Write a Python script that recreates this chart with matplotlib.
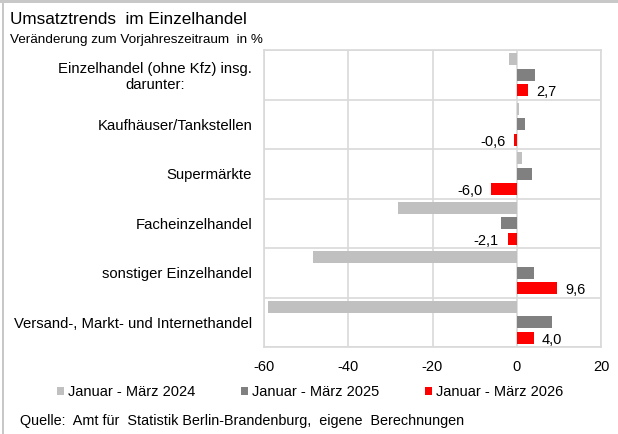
import matplotlib
matplotlib.use("Agg")
import matplotlib.pyplot as plt
import matplotlib.transforms as mtrans
import numpy as np
from matplotlib.patches import Rectangle

plt.rcParams['font.family'] = ['Liberation Sans', 'DejaVu Sans']

categories = [
    "Einzelhandel (ohne Kfz) insg.\ndarunter:",
    "Kaufhäuser/Tankstellen",
    "Supermärkte",
    "Facheinzelhandel",
    "sonstiger Einzelhandel",
    "Versand-, Markt- und Internethandel",
]
series_names = ["Januar - März 2024", "Januar - März 2025", "Januar - März 2026"]
v2024 = [-1.8, 0.6, 1.2, -28.3, -48.3, -59.1]
v2025 = [4.4, 2.0, 3.6, -3.8, 4.1, 8.4]
v2026 = [2.7, -0.6, -6.0, -2.1, 9.6, 4.0]
labels2026 = ["2,7", "-0,6", "-6,0", "-2,1", "9,6", "4,0"]
xticks = [-60, -40, -20, 0, 20]
colors = ["#C0C0C0", "#808080", "#FF0000"]

W, H = 618, 434
fig = plt.figure(figsize=(W / 100, H / 100), dpi=100)
ax = fig.add_axes([264 / W, 1 - 347 / H, (601 - 264) / W, (347 - 50) / H])

n = len(categories)
y = np.arange(n)
pitch = 0.31
bh = 0.245
for i, (vals, c) in enumerate(zip([v2024, v2025, v2026], colors)):
    ax.barh(y + (i - 1) * pitch, vals, height=bh, color=c, label=series_names[i], zorder=3)

for yi, v, lab in zip(y, v2026, labels2026):
    if v >= 0:
        ax.annotate(lab, (v, yi + pitch), xytext=(6, -1.5), textcoords="offset points",
                    ha="left", va="center", fontsize=10.5, color="#000000", zorder=4)
    else:
        ax.annotate(lab, (v, yi + pitch), xytext=(-6.5, -1.5), textcoords="offset points",
                    ha="right", va="center", fontsize=10.5, color="#000000", zorder=4)

ax.set_xlim(-60, 20)
ax.set_ylim(n - 0.5, -0.5)
ax.set_xticks(xticks)
ax.set_xticklabels([str(t) for t in xticks], fontsize=10.5)
offset = mtrans.ScaledTranslation(3 / 100, 0, fig.dpi_scale_trans)
for lbl in ax.get_xticklabels():
    lbl.set_transform(lbl.get_transform() + offset)
ax.set_yticks(y)
ax.set_yticklabels(categories, fontsize=10.7, ha="right", multialignment="center")
ax.tick_params(axis="y", length=0, pad=8.5)
ax.tick_params(axis="x", length=0, pad=9.5)
ax.set_yticks(np.arange(n + 1) - 0.5, minor=True)
ax.tick_params(axis="y", which="minor", length=0)
ax.grid(axis="x", which="major", color="#D9D9D9", lw=1.2, zorder=0)
ax.grid(axis="y", which="minor", color="#D9D9D9", lw=1.2, zorder=0)
ax.grid(axis="y", which="major", visible=False)
for s in ax.spines.values():
    s.set_color("#D9D9D9")
    s.set_linewidth(1.2)

handles, labs = ax.get_legend_handles_labels()
leg = fig.legend(handles, labs, loc="center left", bbox_to_anchor=(57 / W, 1 - 392.5 / H), ncol=3,
                 frameon=False, fontsize=10.5, handlelength=0.48, handleheight=0.48,
                 handletextpad=0.27, columnspacing=3.15, borderpad=0, borderaxespad=0)

fig.text(10 / W, 1 - 19.5 / H, "Umsatztrends  im Einzelhandel", fontsize=12.3, va="center", ha="left")
fig.text(10 / W, 1 - 40 / H, "Veränderung zum Vorjahreszeitraum  in %", fontsize=9.7, va="center", ha="left")
fig.text(20 / W, 1 - 421 / H, "Quelle:  Amt für  Statistik Berlin-Brandenburg,  eigene  Berechnungen",
         fontsize=10.4, va="center", ha="left")

fig.patches.append(Rectangle((0, 1 - 3 / H), 1, 3 / H, transform=fig.transFigure,
                             color="#C8C8C8", lw=0, zorder=10))
fig.patches.append(Rectangle((2 / W, 0), 2 / W, 1, transform=fig.transFigure,
                             color="#C8C8C8", lw=0, zorder=10))

fig.savefig("out.png", dpi=100)
